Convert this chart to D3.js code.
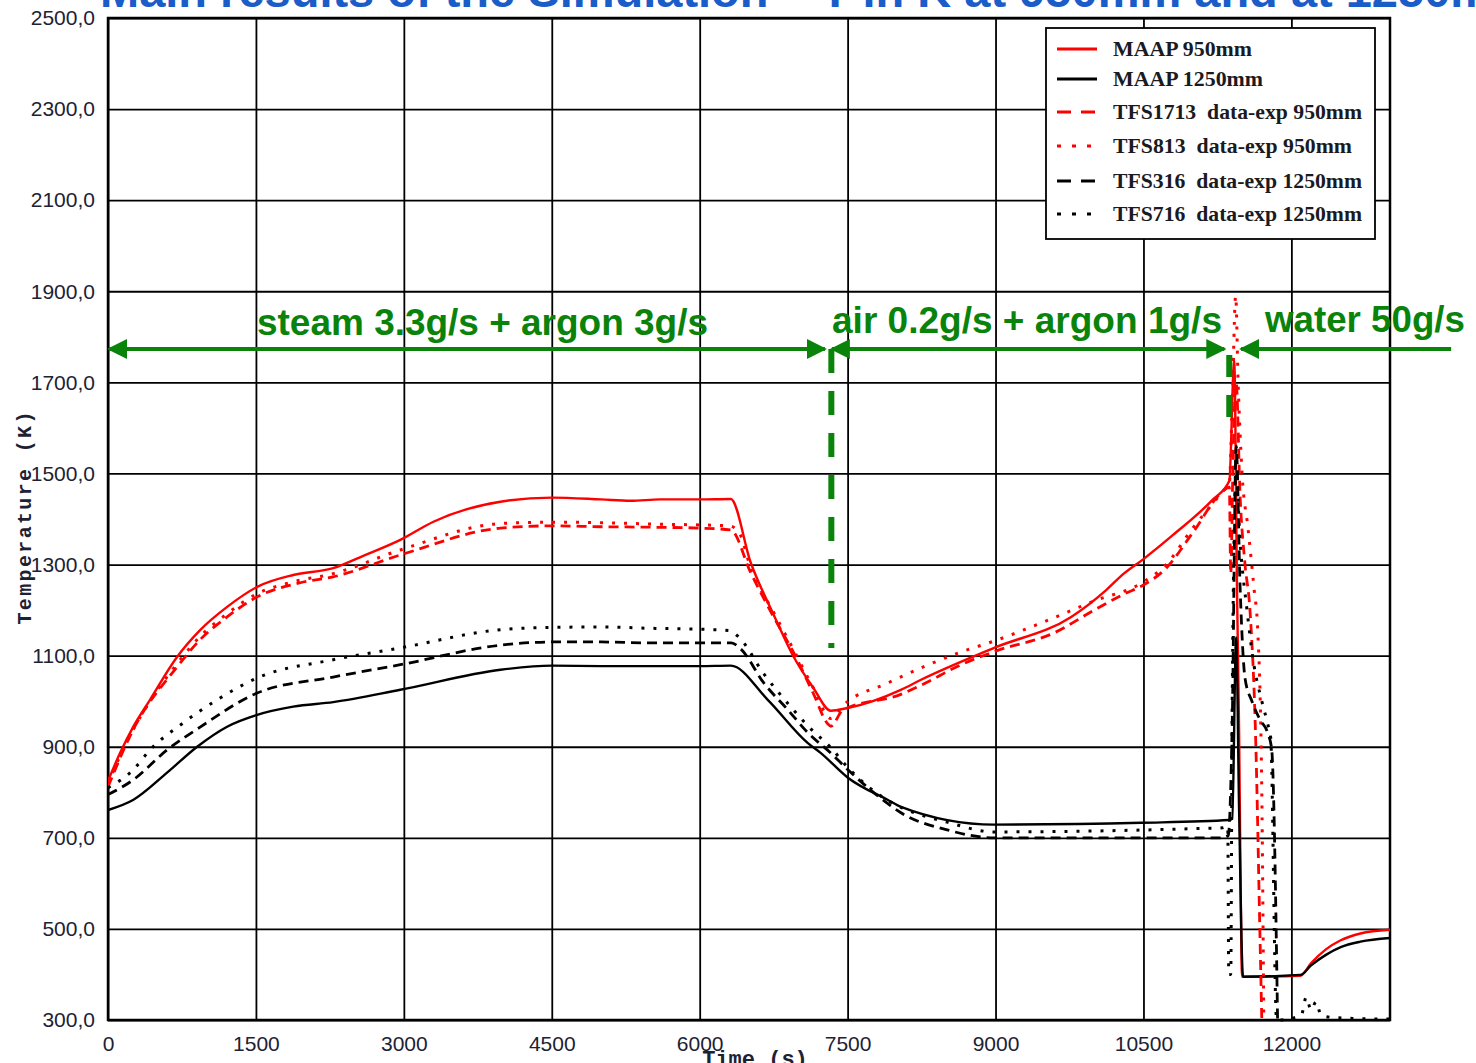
<!DOCTYPE html>
<html>
<head>
<meta charset="utf-8">
<script src="https://cdn.jsdelivr.net/npm/d3@7"></script>
<style>
  html, body { margin: 0; padding: 0; background: #fff; }
  svg { display: block; }
</style>
</head>
<body>
<svg id="chart" width="1476" height="1063"></svg>
<script>
// ---------------- DATA ----------------
const titleText = "Main results of the Simulation – T in K at 950mm and at 1250mm";
const xTicks = [0, 1500, 3000, 4500, 6000, 7500, 9000, 10500, 12000];
const yTicks = [300, 500, 700, 900, 1100, 1300, 1500, 1700, 1900, 2100, 2300, 2500];
const xLabel = "Time (s)";
const yLabel = "Temperature (K)";

const seriesNames = ["MAAP 950mm", "MAAP 1250mm", "TFS1713  data-exp 950mm",
  "TFS813  data-exp 950mm", "TFS316  data-exp 1250mm", "TFS716  data-exp 1250mm"];

// [time s, temperature K]
const maap950 = [[0,825],[122,886],[254,943],[426,1003],[700,1097],[934,1156],[1208,1207],[1513,1251],
  [1878,1277],[2284,1292],[2600,1320],[2964,1354],[3300,1394],[3980,1438],[4500,1447],[5000,1443],
  [5300,1440],[5600,1443],[6000,1443],[6315,1444],[6518,1304],[6750,1190],[6954,1097],[7150,1030],
  [7330,979],[7500,985],[8040,1025],[8244,1047],[8985,1117],[9767,1185],[10122,1244],[10300,1280],
  [10500,1312],[10800,1365],[11200,1442],[11371,1484],[11420,1750],[11450,1222],[11470,930],
  [11480,711],[11500,395],[12090,397],[12200,425],[12350,455],[12500,475],[12700,490],[13000,498]];

const maap1250 = [[0,761],[254,783],[599,843],[904,900],[1208,944],[1513,970],[1878,988],[2284,998],
  [2964,1025],[3980,1069],[4500,1078],[5000,1077],[5500,1077],[6000,1077],[6315,1078],[6690,1003],
  [7097,908],[7229,886],[7503,832],[7909,783],[8041,768],[8985,729],[10477,733],[11371,739],
  [11400,742],[11440,1140],[11470,760],[11510,395],[12090,399],[12200,420],[12350,443],[12500,460],
  [12700,472],[13000,480]];

const tfs1713 = [[0,812],[254,937],[700,1075],[934,1135],[1208,1185],[1513,1229],[1950,1260],
  [2284,1273],[2964,1321],[3980,1380],[4500,1385],[5000,1383],[5500,1382],[6000,1380],[6315,1376],
  [6518,1282],[6750,1185],[6954,1106],[7150,1018],[7300,950],[7330,945],[7450,980],[8040,1015],
  [8244,1035],[8650,1080],[9000,1110],[9594,1150],[10000,1200],[10300,1235],[10500,1255],
  [10730,1292],[11000,1370],[11300,1460],[11371,1470],[11385,1280],[11410,1550],[11440,1700],
  [11480,1450],[11530,1300],[11580,1200],[11640,900],[11680,500],[11700,300]];

const tfs813 = [[0,818],[122,880],[254,937],[426,1000],[700,1082],[934,1142],[1208,1192],[1513,1236],
  [1878,1262],[2284,1280],[2964,1332],[3980,1390],[4500,1393],[5000,1392],[5500,1389],[6000,1387],
  [6300,1385],[6400,1370],[6518,1292],[6750,1195],[6954,1112],[7150,1030],[7330,962],[7450,990],
  [7909,1040],[8650,1108],[8985,1132],[9500,1175],[10000,1220],[10500,1262],[10730,1300],
  [11000,1380],[11300,1460],[11371,1480],[11400,1650],[11435,1890],[11460,1700],[11500,1500],
  [11560,1380],[11620,1250],[11660,1150],[11700,800],[11720,300]];

const tfs316 = [[0,795],[254,827],[599,893],[934,943],[1513,1018],[2284,1053],[2964,1080],[3980,1123],
  [4500,1130],[5000,1130],[5500,1128],[6000,1128],[6320,1128],[6415,1115],[6650,1040],[6894,981],
  [7100,930],[7330,886],[7500,850],[7909,775],[8041,755],[8500,718],[8985,700],[10000,700],
  [11000,700],[11290,700],[11360,705],[11400,950],[11440,1560],[11480,1250],[11530,1050],
  [11600,1000],[11680,960],[11760,930],[11800,895],[11860,300]];

const tfs716 = [[0,810],[254,849],[426,893],[761,952],[1107,1003],[1513,1051],[2284,1091],[2964,1117],
  [3980,1157],[4500,1162],[5000,1163],[5500,1160],[6000,1158],[6300,1155],[6400,1140],[6650,1060],
  [6894,995],[7100,945],[7330,898],[7500,855],[7909,782],[8041,767],[8500,735],[8985,713],
  [10000,715],[11000,720],[11300,722],[11355,725],[11365,400],[11385,400],[11400,1000],
  [11440,1500],[11480,1350],[11550,1200],[11620,1080],[11700,1000],[11760,950],[11790,920],
  [11850,300],[12100,310],[12150,350],[12200,322],[12250,340],[12300,311],[12400,306],
  [12700,303],[13000,302]];

const phaseLabels = ["steam 3.3g/s + argon 3g/s", "air 0.2g/s + argon 1g/s", "water 50g/s"];

// ---------------- CHART ----------------
const svg = d3.select("#chart");
const L = 108, R = 1390, T = 18, B = 1020;
const x = d3.scaleLinear().domain([0, 13000]).range([L, R]);
const y = d3.scaleLinear().domain([300, 2500]).range([B, T]);

// title (cut off at top, like the reference)
svg.append("text")
  .attr("x", 100).attr("y", 7)
  .attr("font-family", "Arial, 'Liberation Sans', sans-serif")
  .attr("font-weight", "bold").attr("font-size", 47)
  .attr("fill", "#1a5cc8")
  .text(titleText);

// grid + axes
const fmt = d => d.toFixed(1).replace(".", ",");
const gy = svg.append("g").attr("transform", `translate(${L},0)`)
  .call(d3.axisLeft(y).tickValues(yTicks).tickSize(-(R - L)).tickPadding(13).tickFormat(fmt));
const gx = svg.append("g").attr("transform", `translate(0,${B})`)
  .call(d3.axisBottom(x).tickValues(xTicks).tickSize(-(B - T)).tickPadding(16).tickFormat(d3.format("d")));
[gx, gy].forEach(g => {
  g.select(".domain").remove();
  g.selectAll(".tick line").attr("stroke", "#000").attr("stroke-width", 1.8);
  g.selectAll(".tick text").attr("fill", "#1c2233")
    .attr("font-family", "Arial, 'Liberation Sans', sans-serif").attr("font-size", 21);
});

// frame
svg.append("rect").attr("x", L).attr("y", T).attr("width", R - L).attr("height", B - T)
  .attr("fill", "none").attr("stroke", "#000").attr("stroke-width", 2.5);

// axis titles
svg.append("text").attr("x", 755).attr("y", 1066)
  .attr("text-anchor", "middle")
  .attr("font-family", "'Liberation Mono', 'DejaVu Sans Mono', monospace")
  .attr("font-weight", "bold").attr("font-size", 22).attr("fill", "#1c2233")
  .text(xLabel);
svg.append("text").attr("transform", "translate(31,518) rotate(-90)")
  .attr("text-anchor", "middle")
  .attr("font-family", "'Liberation Mono', 'DejaVu Sans Mono', monospace")
  .attr("font-weight", "bold").attr("font-size", 20).attr("fill", "#1c2233")
  .attr("textLength", 213).attr("lengthAdjust", "spacing")
  .text(yLabel);

// clip
svg.append("clipPath").attr("id", "plotclip").append("rect")
  .attr("x", L).attr("y", T - 2).attr("width", R - L).attr("height", B - T + 4);

const line = d3.line().x(d => x(d[0])).y(d => y(d[1])).curve(d3.curveMonotoneX);
const styles = [
  { data: maap950, color: "#ff0000", dash: null, w: 2.4 },
  { data: maap1250, color: "#000", dash: null, w: 2.4 },
  { data: tfs1713, color: "#ff0000", dash: "10,6", w: 2.8 },
  { data: tfs813, color: "#ff0000", dash: "3,9", w: 3 },
  { data: tfs316, color: "#000", dash: "10,6", w: 2.8 },
  { data: tfs716, color: "#000", dash: "3,9", w: 3 }
];
const gLines = svg.append("g").attr("clip-path", "url(#plotclip)");
styles.forEach(s => {
  gLines.append("path").datum(s.data)
    .attr("d", line).attr("fill", "none")
    .attr("stroke", s.color).attr("stroke-width", s.w)
    .attr("stroke-dasharray", s.dash);
});

// legend
const lg = svg.append("g");
lg.append("rect").attr("x", 1046).attr("y", 28).attr("width", 329).attr("height", 211)
  .attr("fill", "#fff").attr("stroke", "#000").attr("stroke-width", 1.8);
const rowY = [49, 79, 112, 146, 181, 214];
const legDash = [null, null, "14,10", "4,11", "14,10", "4,11"];
const legW = [139, 150, 249, 239, 249, 249];
seriesNames.forEach((n, i) => {
  lg.append("line").attr("x1", 1057).attr("x2", 1097).attr("y1", rowY[i]).attr("y2", rowY[i])
    .attr("stroke", styles[i].color).attr("stroke-width", 3.2)
    .attr("stroke-dasharray", legDash[i]);
  lg.append("text").attr("x", 1113).attr("y", rowY[i] + 7)
    .attr("font-family", "'Liberation Serif', 'Times New Roman', serif")
    .attr("font-weight", "bold").attr("font-size", 21).attr("fill", "#1a1a22")
    .attr("textLength", legW[i]).attr("lengthAdjust", "spacingAndGlyphs")
    .attr("xml:space", "preserve").style("white-space", "pre")
    .text(n);
});

// phase annotations
const green = "#0a830a";
const defs = svg.append("defs");
defs.append("marker").attr("id", "ah").attr("viewBox", "0 0 10 10")
  .attr("refX", 9).attr("refY", 5).attr("markerWidth", 5).attr("markerHeight", 5)
  .attr("markerUnits", "strokeWidth").attr("orient", "auto-start-reverse")
  .append("path").attr("d", "M0,0 L10,5 L0,10 z").attr("fill", green);

const arrowY = 349;
const arrows = [
  { x1: 0, x2: 7270, start: true, end: true },
  { x1: 7330, x2: 11320, start: true, end: true },
  { x1: 11480, x2: 13620, start: true, end: false }
];
arrows.forEach(a => {
  svg.append("line").attr("x1", x(a.x1) + 1).attr("x2", x(a.x2))
    .attr("y1", arrowY).attr("y2", arrowY)
    .attr("stroke", green).attr("stroke-width", 4)
    .attr("marker-start", a.start ? "url(#ah)" : null)
    .attr("marker-end", a.end ? "url(#ah)" : null);
});

const labelPos = [{ x: 257, w: 451, y: 335 }, { x: 832, w: 390, y: 333 }, { x: 1265, w: 200, y: 332 }];
phaseLabels.forEach((t, i) => {
  svg.append("text").attr("x", labelPos[i].x).attr("y", labelPos[i].y)
    .attr("font-family", "Arial, 'Liberation Sans', sans-serif")
    .attr("font-weight", "bold").attr("font-size", 36).attr("fill", green)
    .attr("textLength", labelPos[i].w).attr("lengthAdjust", "spacingAndGlyphs")
    .text(t);
});

// phase boundaries (green dashed verticals)
svg.append("line").attr("x1", x(7335)).attr("x2", x(7335)).attr("y1", 349).attr("y2", 648)
  .attr("stroke", green).attr("stroke-width", 6).attr("stroke-dasharray", "24,18");
svg.append("line").attr("x1", x(11370)).attr("x2", x(11370)).attr("y1", 355).attr("y2", 418)
  .attr("stroke", green).attr("stroke-width", 6).attr("stroke-dasharray", "22,18");
</script>
</body>
</html>
